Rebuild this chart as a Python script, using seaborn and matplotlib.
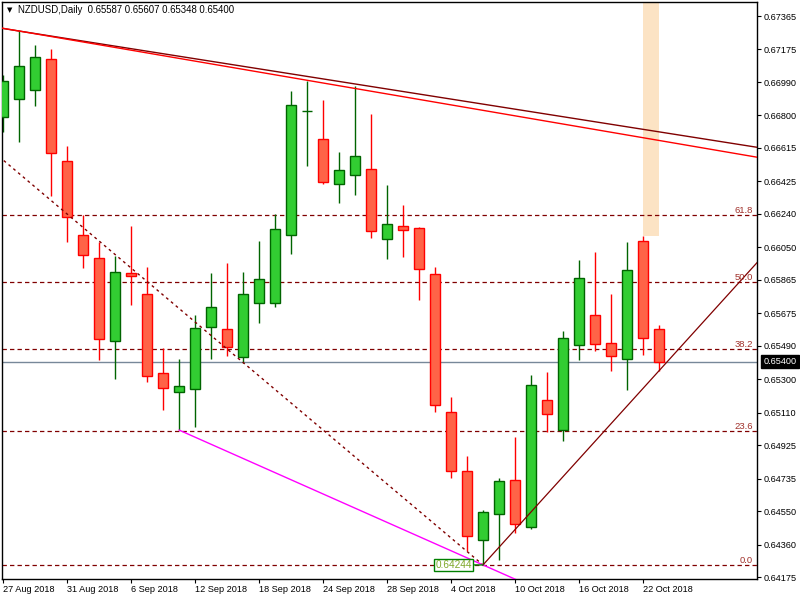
import matplotlib
matplotlib.use('Agg')
import numpy as np
import pandas as pd
import matplotlib.pyplot as plt
import seaborn as sns
from matplotlib.patches import Rectangle

# ---------------- data ----------------
dates = ['27 Aug 2018', '28 Aug 2018', '29 Aug 2018', '30 Aug 2018', '31 Aug 2018',
         '3 Sep 2018', '4 Sep 2018', '5 Sep 2018', '6 Sep 2018', '7 Sep 2018',
         '10 Sep 2018', '11 Sep 2018', '12 Sep 2018', '13 Sep 2018', '14 Sep 2018',
         '17 Sep 2018', '18 Sep 2018', '19 Sep 2018', '20 Sep 2018', '21 Sep 2018',
         '24 Sep 2018', '25 Sep 2018', '26 Sep 2018', '27 Sep 2018', '28 Sep 2018',
         '1 Oct 2018', '2 Oct 2018', '3 Oct 2018', '4 Oct 2018', '5 Oct 2018',
         '8 Oct 2018', '9 Oct 2018', '10 Oct 2018', '11 Oct 2018', '12 Oct 2018',
         '15 Oct 2018', '16 Oct 2018', '17 Oct 2018', '18 Oct 2018', '19 Oct 2018',
         '22 Oct 2018', '23 Oct 2018']

opens = [0.66791, 0.66893, 0.66944, 0.67121, 0.66540, 0.66120, 0.65989, 0.65517, 0.65904, 0.65784,
         0.65335, 0.65227, 0.65244, 0.65597, 0.65585, 0.65426, 0.65733, 0.65733, 0.66120, 0.66825,
         0.66666, 0.66410, 0.66461, 0.66495, 0.66097, 0.66171, 0.66160, 0.65898, 0.65113, 0.64778,
         0.64385, 0.64533, 0.64727, 0.64459, 0.65181, 0.65011, 0.65494, 0.65665, 0.65506, 0.65415,
         0.66086, 0.65587]
highs = [0.67030, 0.67280, 0.67200, 0.67177, 0.66626, 0.66233, 0.66080, 0.66000, 0.66171, 0.65938,
         0.65477, 0.65415, 0.65665, 0.65904, 0.65961, 0.65909, 0.66086, 0.66239, 0.66939, 0.66995,
         0.66887, 0.66592, 0.66967, 0.66808, 0.66404, 0.66290, 0.66165, 0.65938, 0.65199, 0.64863,
         0.64556, 0.64738, 0.64971, 0.65324, 0.65341, 0.65574, 0.65978, 0.66023, 0.65784, 0.66080,
         0.66114, 0.65607]
lows = [0.66705, 0.66649, 0.66853, 0.66342, 0.66080, 0.65932, 0.65409, 0.65301, 0.65722, 0.65284,
        0.65125, 0.65011, 0.65028, 0.65415, 0.65432, 0.65392, 0.65619, 0.65710, 0.66012, 0.66512,
        0.66410, 0.66302, 0.66347, 0.66103, 0.65983, 0.65995, 0.65750, 0.65113, 0.64738, 0.64323,
        0.64244, 0.64272, 0.64425, 0.64448, 0.64999, 0.64948, 0.65409, 0.65460, 0.65346, 0.65238,
        0.65437, 0.65348]
closes = [0.66995, 0.67081, 0.67132, 0.66586, 0.66222, 0.66006, 0.65528, 0.65909, 0.65887, 0.65318,
          0.65250, 0.65261, 0.65591, 0.65710, 0.65483, 0.65784, 0.65870, 0.66154, 0.66859, 0.66827,
          0.66421, 0.66489, 0.66569, 0.66143, 0.66182, 0.66148, 0.65926, 0.65153, 0.64778, 0.64408,
          0.64545, 0.64721, 0.64476, 0.65267, 0.65102, 0.65534, 0.65875, 0.65500, 0.65432, 0.65921,
          0.65534, 0.65400]

x_tick_labels = ['27 Aug 2018', '31 Aug 2018', '6 Sep 2018', '12 Sep 2018', '18 Sep 2018',
                 '24 Sep 2018', '28 Sep 2018', '4 Oct 2018', '10 Oct 2018', '16 Oct 2018',
                 '22 Oct 2018']
y_tick_values = [0.67365, 0.67175, 0.66990, 0.66800, 0.66615, 0.66425, 0.66240, 0.66050, 0.65865,
                 0.65675, 0.65490, 0.65300, 0.65110, 0.64925, 0.64735, 0.64550, 0.64360, 0.64175]

fib_low = 0.64244
fib_high = 0.67465
fib_levels = [0.0, 23.6, 38.2, 50.0, 61.8]

current_price = 0.65400
header = 'NZDUSD,Daily  0.65587 0.65607 0.65348 0.65400'

# trend line anchors (bar index, price)
dark_line = [(1, 0.67280), (22, 0.66979)]
red_line = [(1, 0.67280), (19, 0.67000)]
dotted_start = (0, 0.66547)

# ---------------- style ----------------
sns.set_theme(style='white')
plt.rcParams['font.family'] = ['Liberation Sans', 'DejaVu Sans']

df = pd.DataFrame({'x': np.arange(len(dates)), 'date': dates, 'open': opens,
                   'high': highs, 'low': lows, 'close': closes})
df['up'] = df['close'] >= df['open']

fig = plt.figure(figsize=(8, 6), dpi=100)
ax = fig.add_axes([2 / 800, 21 / 600, 755 / 800, 577 / 600])
ax.set_facecolor('white')

xmin, xmax = -0.0625, 47.125
ax.set_xlim(xmin, xmax)
ax.set_ylim(0.64164, 0.67445)

# orange rectangle object
i40 = 40
ax.add_patch(Rectangle((i40, highs[i40]), 1, 0.05, facecolor='#FCE3C4', edgecolor='none', zorder=0.5))

# fibonacci levels
fib_range = fib_high - fib_low
for lv in fib_levels:
    price = fib_low + fib_range * lv / 100.0
    ax.axhline(price, color='#800000', lw=0.9, ls=(0, (3.5, 2.5)), zorder=1)
    ax.text(0.9947, price, f'{lv:.1f}', transform=ax.get_yaxis_transform(),
            ha='right', va='bottom', fontsize=6.8, color='#A0302A', zorder=6)

# current price line
ax.axhline(current_price, color='#778899', lw=1.0, zorder=1)

# candles
up = df[df['up']]
dn = df[~df['up']]
for sub, fill, edge in [(up, '#32CD32', '#006400'), (dn, '#FF6347', '#FF0000')]:
    ax.vlines(sub['x'], sub['low'], sub['high'], color=edge, lw=1.0, zorder=2)
    body_bottom = np.minimum(sub['open'], sub['close'])
    body_h = np.maximum(np.abs(sub['close'] - sub['open']), 0.000015)
    ax.bar(sub['x'], body_h, bottom=body_bottom, width=0.66, color=fill,
           edgecolor=edge, linewidth=1.0, zorder=3)

# trend lines through two anchors (infinite)
ax.axline(dark_line[0], dark_line[1], color='#800000', lw=1.0, zorder=4)
ax.axline(red_line[0], red_line[1], color='#FF0000', lw=1.0, zorder=4)

# dotted trend segment ending at the swing low
i_low = int(np.argmin(lows))
sx, sy = dotted_start
slope = (lows[i_low] - sy) / (i_low - sx)
dx = [sx - 3, i_low]
dy = [sy - 3 * slope, lows[i_low]]
sns.lineplot(x=dx, y=dy, ax=ax, color='#800000', lw=1.0, dashes=False, zorder=4,
             estimator=None, sort=False, legend=False)
ax.lines[-1].set_linestyle((0, (2, 2.5)))

# magenta ray from low of bar 11 through the swing low
i_m = 11
m_slope = (lows[i_low] - lows[i_m]) / (i_low - i_m)
sns.lineplot(x=[i_m, xmax + 2], y=[lows[i_m], lows[i_m] + m_slope * (xmax + 2 - i_m)], ax=ax,
             color='#FF00FF', lw=1.0, zorder=4, estimator=None, sort=False, legend=False)

# rising ray from the swing low through the last low
i_last = len(lows) - 1
r_slope = (lows[i_last] - lows[i_low]) / (i_last - i_low)
sns.lineplot(x=[i_low, xmax + 2], y=[lows[i_low], lows[i_low] + r_slope * (xmax + 2 - i_low)], ax=ax,
             color='#800000', lw=0.9, zorder=4, estimator=None, sort=False, legend=False)

# price label of the swing low
ax.annotate(f'{lows[i_low]:.5f}', xy=(i_low, lows[i_low]), xytext=(-8, 0),
            textcoords='offset points', ha='right', va='center', fontsize=7.2,
            color='#7FA82A', zorder=7,
            bbox=dict(boxstyle='square,pad=0.12', fc='white', ec='#008000', lw=1.0),
            arrowprops=dict(arrowstyle='-', color='#008000', lw=1.0, shrinkA=0, shrinkB=0))

# axes / ticks
for s in ax.spines.values():
    s.set_visible(True)
    s.set_color('black')
    s.set_linewidth(1.0)

ax.yaxis.tick_right()
ax.set_yticks(y_tick_values, [f'{v:.5f}' for v in y_tick_values])
ax.tick_params(axis='y', which='both', right=True, left=False, direction='out', length=3,
               width=0.8, pad=2, labelsize=6.6, colors='black')

tick_pos = [dates.index(lbl) for lbl in x_tick_labels]
ax.set_xticks(tick_pos, x_tick_labels, ha='left')
ax.tick_params(axis='x', bottom=True, direction='out', length=3, width=0.8, pad=1.5,
               labelsize=6.6, colors='black')
ax.grid(False)

# current price tag on the axis
ax.annotate(f'{current_price:.5f}', xy=(1, current_price), xycoords=('axes fraction', 'data'),
            xytext=(4.5, 0), textcoords='offset points', ha='left', va='center',
            fontsize=6.6, color='white', zorder=8, annotation_clip=False,
            bbox=dict(boxstyle='square,pad=0.25', fc='black', ec='black'))

# header
fig.text(7 / 800, 1 - 10 / 600, '\u25BC', fontsize=5, va='center', ha='left',
         family=['DejaVu Sans'], color='black')
fig.text(18 / 800, 1 - 10 / 600, header, fontsize=6.9, va='center', ha='left', color='black')

fig.savefig('out.png', dpi=100)
